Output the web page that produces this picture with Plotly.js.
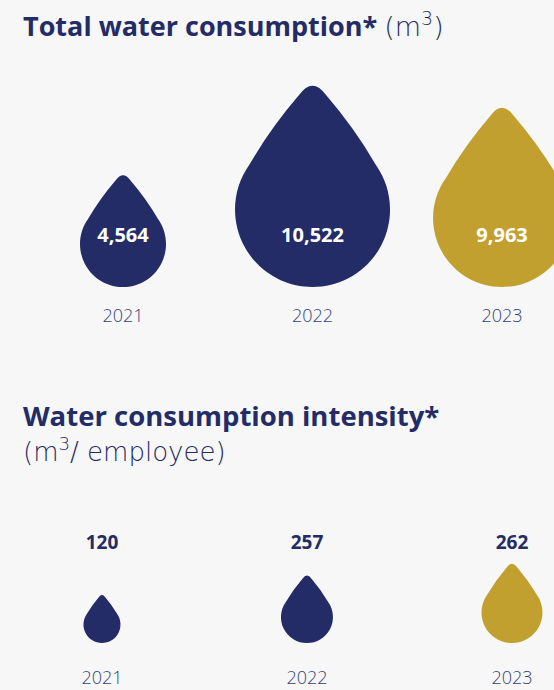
<!DOCTYPE html>
<html><head><meta charset="utf-8">
<script src="https://cdn.plot.ly/plotly-3.0.1.min.js"></script>
<style>html,body{margin:0;padding:0;background:#f7f7f7;} #chart{width:554px;height:690px;}</style>
</head><body><div id="chart"></div>
<script>
// ---- data ----
const years = ['2021', '2022', '2023'];
const totalConsumption = [4564, 10522, 9963];
const intensity = [120, 257, 262];
const totalTitle = 'Total water consumption*';
const totalUnit = '(m<sup>3</sup>)';
const intensityTitle = 'Water consumption intensity*';
const intensityUnit = '(m<sup>3</sup>/ employee)';

// ---- style ----
const NAVY = '#232c66', GOLD = '#c2a030', YEARCOL = '#34407c', BG = '#f7f7f7';
const dropColors = [NAVY, NAVY, GOLD];
const topRadiusPx = [43, 77.5, 69];
const botRadiusPx = [18.5, 26, 30.5];
const BOLD = 'Open Sans', LIGHT = 'Open Sans', THIN = 'DejaVu Sans';

function fmt(v) { return v.toLocaleString('en-US'); }

// drop outline (pixel units, origin at drop bottom, y up)
function dropPath(r) {
  const D = 1.72;               // virtual apex distance above circle centre (in r)
  const s = 0.3;                // tip rounding length (in r)
  const bulge = 0.05;           // side convexity (in r)
  const phi = Math.acos(1 / D);
  const cy = 1;
  const A = [0, cy + D];
  const TpR = [Math.sin(phi), cy + Math.cos(phi)];
  const TpL = [-TpR[0], TpR[1]];
  const len = Math.hypot(TpR[0] - A[0], TpR[1] - A[1]);
  const ux = (TpR[0] - A[0]) / len, uy = (TpR[1] - A[1]) / len;
  const tR = [A[0] + s * ux, A[1] + s * uy];
  const tL = [-tR[0], tR[1]];
  const nx = -uy, ny = ux;
  const midR = [(tR[0] + TpR[0]) / 2 + bulge * Math.abs(nx), (tR[1] + TpR[1]) / 2 + bulge * Math.abs(ny)];
  const midL = [-midR[0], midR[1]];
  const p = (pt) => (pt[0] * r).toFixed(2) + ',' + (pt[1] * r).toFixed(2);
  let d = 'M' + p(tL) + ' Q' + p(A) + ' ' + p(tR) + ' Q' + p(midR) + ' ' + p(TpR);
  const a0 = Math.atan2(TpR[1] - cy, TpR[0]);
  const a1 = Math.atan2(TpL[1] - cy, TpL[0]) - 2 * Math.PI;
  const nSeg = 4;
  const da = (a1 - a0) / nSeg;
  const k = 4 / 3 * Math.tan(da / 4);
  for (let i = 0; i < nSeg; i++) {
    const t0 = a0 + i * da, t1 = t0 + da;
    const P0 = [Math.cos(t0), cy + Math.sin(t0)];
    const P3 = [Math.cos(t1), cy + Math.sin(t1)];
    const P1 = [P0[0] - k * Math.sin(t0), P0[1] + k * Math.cos(t0)];
    const P2 = [P3[0] + k * Math.sin(t1), P3[1] - k * Math.cos(t1)];
    d += ' C' + p(P1) + ' ' + p(P2) + ' ' + p(P3);
  }
  d += ' Q' + p(midL) + ' ' + p(tL) + ' Z';
  return d;
}

const shapes = [];
years.forEach((yr, i) => {
  shapes.push({type: 'path', xref: 'x', yref: 'y', xsizemode: 'pixel', ysizemode: 'pixel',
    xanchor: i, yanchor: 0, path: dropPath(topRadiusPx[i]),
    fillcolor: dropColors[i], line: {width: 0}, layer: 'below'});
  shapes.push({type: 'path', xref: 'x2', yref: 'y2', xsizemode: 'pixel', ysizemode: 'pixel',
    xanchor: i, yanchor: 0, path: dropPath(botRadiusPx[i]),
    fillcolor: dropColors[i], line: {width: 0}, layer: 'below'});
});

const traces = [
  {type: 'scatter', mode: 'text', x: years, y: years.map(() => 50), xaxis: 'x', yaxis: 'y',
    text: totalConsumption.map(v => '<b>' + fmt(v) + '</b>'), textposition: 'middle center',
    textfont: {family: BOLD, size: 20, color: '#ffffff'}, hoverinfo: 'skip'},
  {type: 'scatter', mode: 'text', x: years, y: years.map(() => -30), xaxis: 'x', yaxis: 'y',
    text: years, textposition: 'middle center',
    textfont: {family: LIGHT, size: 18, color: YEARCOL, weight: 300}, hoverinfo: 'skip'},
  {type: 'scatter', mode: 'text', x: years, y: years.map(() => 99), xaxis: 'x2', yaxis: 'y2',
    text: intensity.map(v => '<b>' + fmt(v) + '</b>'), textposition: 'middle center',
    textfont: {family: BOLD, size: 19, color: NAVY}, hoverinfo: 'skip'},
  {type: 'scatter', mode: 'text', x: years, y: years.map(() => -36), xaxis: 'x2', yaxis: 'y2',
    text: years, textposition: 'middle center',
    textfont: {family: LIGHT, size: 18, color: YEARCOL, weight: 300}, hoverinfo: 'skip'}
];

const W = 554, Hh = 690;
const axisHidden = {showgrid: false, zeroline: false, showticklabels: false, ticks: '', showline: false, fixedrange: true};
const layout = {
  width: W, height: Hh, margin: {l: 0, r: 0, t: 0, b: 0},
  paper_bgcolor: BG, plot_bgcolor: 'rgba(0,0,0,0)', showlegend: false,
  xaxis: Object.assign({type: 'category', categoryorder: 'array', categoryarray: years,
    range: [-0.649, 2.274], domain: [0, 1], anchor: 'y'}, axisHidden),
  yaxis: Object.assign({range: [-403, 287], domain: [0, 1], anchor: 'x'}, axisHidden),
  xaxis2: Object.assign({type: 'category', categoryorder: 'array', categoryarray: years,
    range: [-0.4976, 2.205], domain: [0, 1], anchor: 'y2'}, axisHidden),
  yaxis2: Object.assign({range: [-47, 643], domain: [0, 1], anchor: 'x2'}, axisHidden),
  shapes: shapes,
  annotations: [
    {xref: 'paper', yref: 'paper', x: 21 / W, y: 1 - 25 / Hh, xanchor: 'left', yanchor: 'middle',
      showarrow: false, text: '<b>' + totalTitle + '</b> <span style="font-family:DejaVu Sans;font-weight:200">' + totalUnit + '</span>',
      font: {family: BOLD, size: 27, color: NAVY, weight: 300}},
    {xref: 'paper', yref: 'paper', x: 21 / W, y: 1 - 415 / Hh, xanchor: 'left', yanchor: 'middle',
      showarrow: false, text: '<b>' + intensityTitle + '</b>',
      font: {family: BOLD, size: 27.5, color: NAVY}},
    {xref: 'paper', yref: 'paper', x: 21 / W, y: 1 - 450 / Hh, xanchor: 'left', yanchor: 'middle',
      showarrow: false, text: intensityUnit,
      font: {family: THIN, size: 26, color: NAVY, weight: 200}}
  ]
};

Plotly.newPlot('chart', traces, layout, {displayModeBar: false, staticPlot: true});
</script></body></html>
